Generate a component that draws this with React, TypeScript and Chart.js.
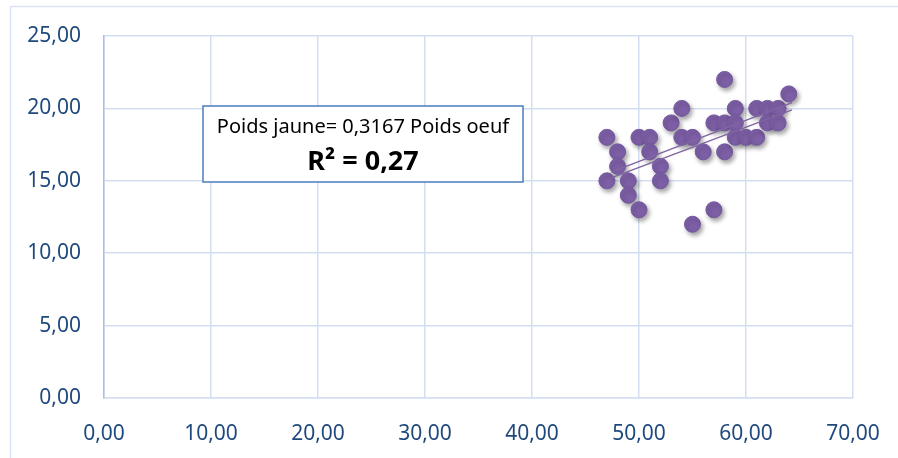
import React, { useEffect, useRef } from "react";
import { Chart, registerables } from "chart.js";

Chart.register(...registerables);

// Egg weight (x) vs yolk weight (y)
const eggWeight = [47, 48, 48, 47, 49, 49, 50, 50, 51, 51, 52, 52, 53, 54, 54, 55, 55, 56, 57, 57, 58, 58, 58, 59, 59, 59, 60, 61, 61, 62, 62, 63, 63, 64];
const yolkWeight = [18, 17, 16, 15, 15, 14, 13, 18, 18, 17, 16, 15, 19, 20, 18, 18, 12, 17, 13, 19, 19, 22, 17, 20, 19, 18, 18, 18, 20, 20, 19, 20, 19, 21];

// Trend lines
const trendUpperX = [47.4, 64.3];
const trendUpperY = [15.6, 20.4];
const trendLowerX = [47.4, 64.3];
const trendLowerY = [15.2, 19.9];

const xTicks = [0, 10, 20, 30, 40, 50, 60, 70];
const yTicks = [0, 5, 10, 15, 20, 25];

const equationText = "Poids jaune= 0,3167 Poids oeuf";
const r2Text = "R² = 0,27";

const FONT = "'Noto Sans', 'Open Sans', sans-serif";
const PURPLE = "#8064A2";
const TICK_COLOR = "#1F497D";
const GRID_COLOR = "#D3DFF1";

const fmt = (v: number) => v.toFixed(2).replace(".", ",");

const shadowPlugin = {
  id: "markerShadow",
  beforeDatasetDraw(chart: any, args: any) {
    const ds = chart.data.datasets[args.index];
    if (ds && ds.shadow) {
      const ctx = chart.ctx;
      ctx.save();
      ctx.shadowColor = "rgba(0,0,0,0.35)";
      ctx.shadowBlur = 4;
      ctx.shadowOffsetX = 2;
      ctx.shadowOffsetY = 3;
    }
  },
  afterDatasetDraw(chart: any, args: any) {
    const ds = chart.data.datasets[args.index];
    if (ds && ds.shadow) chart.ctx.restore();
  },
};

const framePlugin = {
  id: "frameAndBox",
  beforeDraw(chart: any) {
    const ctx = chart.ctx;
    ctx.save();
    ctx.fillStyle = "#ffffff";
    ctx.fillRect(0, 0, chart.width, chart.height);
    ctx.strokeStyle = "#D9E3F1";
    ctx.lineWidth = 1.5;
    ctx.beginPath();
    ctx.moveTo(10.5, chart.height + 2);
    ctx.lineTo(10.5, 6.5);
    ctx.lineTo(chart.width + 2, 6.5);
    ctx.stroke();
    ctx.restore();
  },
  afterDatasetsDraw(chart: any) {
    const ctx = chart.ctx;
    const a = chart.chartArea;
    const bx = a.left + 99;
    const by = a.top + 70;
    const bw = 320;
    const bh = 76;
    ctx.save();
    ctx.fillStyle = "#ffffff";
    ctx.fillRect(bx, by, bw, bh);
    ctx.strokeStyle = "#4A7EBB";
    ctx.lineWidth = 1.5;
    ctx.strokeRect(bx, by, bw, bh);
    ctx.fillStyle = "#000000";
    ctx.textAlign = "center";
    ctx.textBaseline = "alphabetic";
    ctx.font = `20px ${FONT}`;
    ctx.fillText(equationText, bx + bw / 2, by + 27);
    ctx.font = `bold 27px ${FONT}`;
    ctx.fillText(r2Text, bx + bw / 2, by + 64);
    ctx.restore();
  },
};

export default function App() {
  const ref = useRef<HTMLCanvasElement | null>(null);
  useEffect(() => {
    if (!ref.current) return;
    const chart = new Chart(ref.current, {
      type: "scatter",
      data: {
        datasets: [
          {
            type: "line",
            data: trendUpperX.map((x, i) => ({ x, y: trendUpperY[i] })),
            borderColor: PURPLE,
            borderWidth: 1.5,
            pointRadius: 0,
            fill: false,
            order: 1,
          } as any,
          {
            type: "line",
            data: trendLowerX.map((x, i) => ({ x, y: trendLowerY[i] })),
            borderColor: PURPLE,
            borderWidth: 1.5,
            pointRadius: 0,
            fill: false,
            order: 1,
          } as any,
          {
            data: eggWeight.map((x, i) => ({ x, y: yolkWeight[i] })),
            backgroundColor: "#7D5FA6",
            borderColor: "#7458A0",
            borderWidth: 1,
            pointRadius: 8,
            order: 2,
            shadow: true,
          } as any,
        ],
      },
      options: {
        animation: false,
        responsive: false,
        maintainAspectRatio: false,
        layout: { padding: { top: 36, right: 45, left: 0, bottom: 0 } },
        plugins: {
          legend: { display: false },
          tooltip: { enabled: false },
        },
        scales: {
          x: {
            type: "linear",
            min: 0,
            max: 70,
            afterBuildTicks: (s: any) => {
              s.ticks = xTicks.map((v) => ({ value: v }));
            },
            afterFit: (s: any) => {
              s.height = 60;
              s.paddingLeft = 0;
              s.paddingRight = 0;
            },
            grid: { color: GRID_COLOR, lineWidth: 1.5, drawTicks: false },
            border: { color: GRID_COLOR, width: 1.5 },
            ticks: {
              color: TICK_COLOR,
              font: { family: FONT, size: 21 },
              padding: 23,
              callback: (v: any) => fmt(Number(v)),
              maxRotation: 0,
            },
          },
          y: {
            type: "linear",
            min: 0,
            max: 25,
            afterBuildTicks: (s: any) => {
              s.ticks = yTicks.map((v) => ({ value: v }));
            },
            afterFit: (s: any) => {
              s.width = 104;
              s.paddingTop = 0;
              s.paddingBottom = 0;
            },
            grid: { color: GRID_COLOR, lineWidth: 1.5, drawTicks: false },
            border: { color: "#A7C0E5", width: 1.5 },
            ticks: {
              color: TICK_COLOR,
              font: { family: FONT, size: 21 },
              padding: 23,
              callback: (v: any) => fmt(Number(v)),
            },
          },
        },
      },
      plugins: [shadowPlugin, framePlugin],
    });
    return () => chart.destroy();
  }, []);
  return (
    <div style={{ position: "fixed", left: 0, top: 0, width: 898, height: 458 }}>
      <canvas ref={ref} width={898} height={458} style={{ display: "block" }} />
    </div>
  );
}
